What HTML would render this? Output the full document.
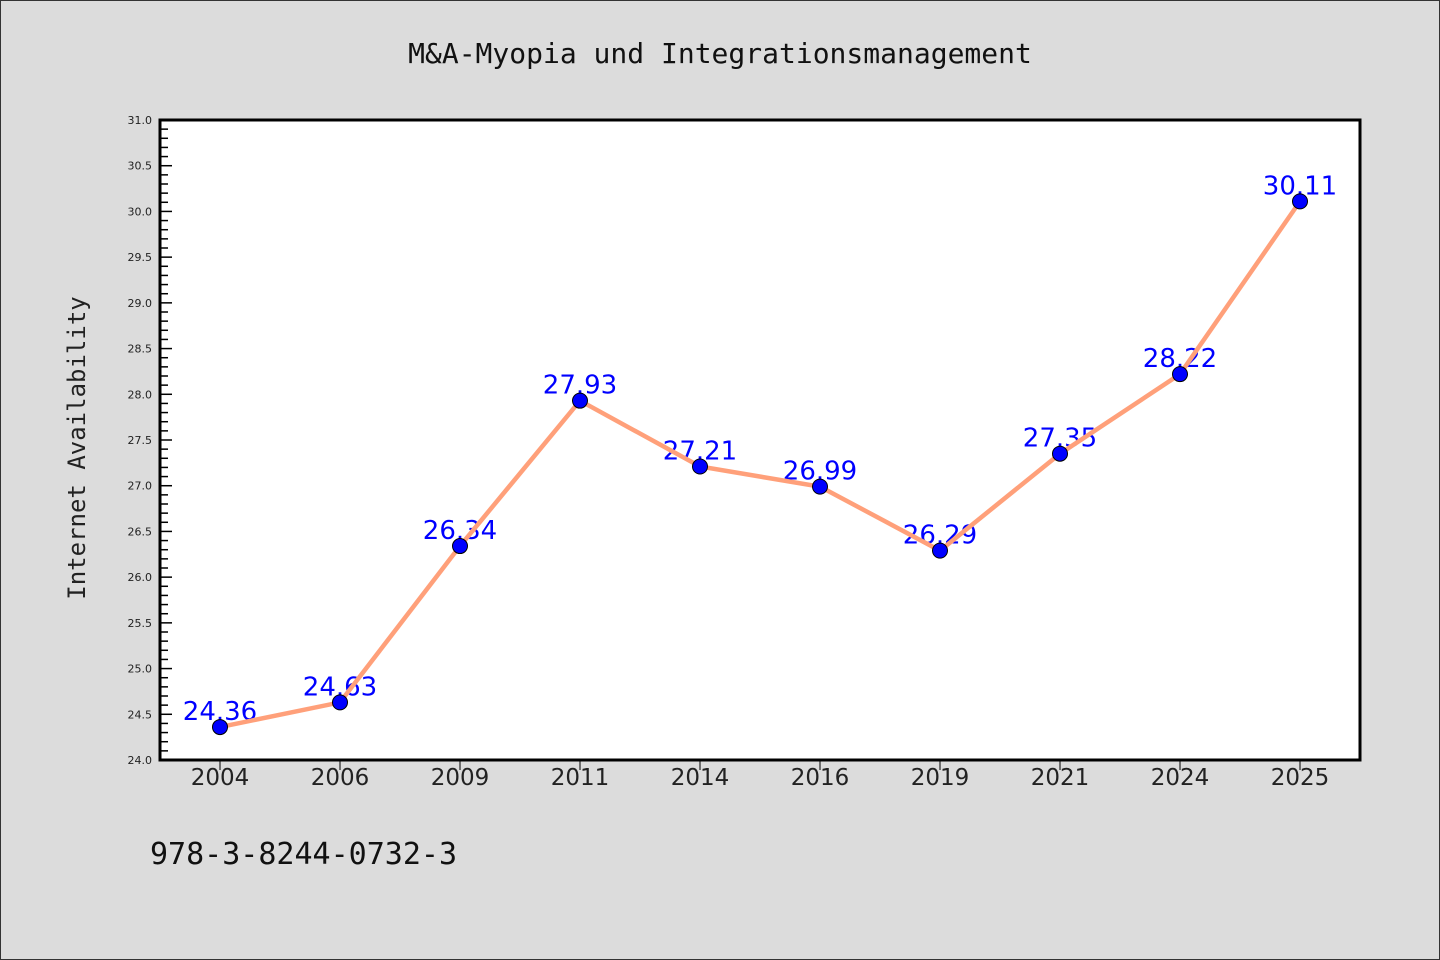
<!DOCTYPE html>
<html><head><meta charset="utf-8"><style>
body{margin:0;background:#dcdcdc;}
svg{display:block}
</style></head><body>
<svg width="1440" height="960" xmlns="http://www.w3.org/2000/svg">
<rect x="0.5" y="0.5" width="1439" height="959" fill="#dcdcdc" stroke="#333"/>
<text x="720" y="63" text-anchor="middle" font-family="DejaVu Sans Mono, monospace" font-size="28" fill="#111">M&amp;A-Myopia und Integrationsmanagement</text>
<rect x="160" y="120" width="1200" height="640" fill="#fff"/>
<g id="yaxis"></g><g id="xaxis"></g><g id="series"></g>
<rect x="160" y="120" width="1200" height="640" fill="none" stroke="#000" stroke-width="3"/>
<text transform="translate(85,448) rotate(-90)" text-anchor="middle" font-family="DejaVu Sans Mono, monospace" font-size="24" fill="#222">Internet Availability</text>
<text x="150" y="864" font-family="DejaVu Sans Mono, monospace" font-size="30" fill="#111">978-3-8244-0732-3</text>
</svg>
<script>
const categories=["2004","2006","2009","2011","2014","2016","2019","2021","2024","2025"];
const values=[24.36,24.63,26.34,27.93,27.21,26.99,26.29,27.35,28.22,30.11];
const valueLabels=["24.36","24.63","26.34","27.93","27.21","26.99","26.29","27.35","28.22","30.11"];
const yTicks=["24.0","24.5","25.0","25.5","26.0","26.5","27.0","27.5","28.0","28.5","29.0","29.5","30.0","30.5","31.0"];
const yMin=24,yMax=31;
const L=160,R=1360,T=120,B=760;
const NS="http://www.w3.org/2000/svg";
function y(v){return B-(v-yMin)/(yMax-yMin)*(B-T);}
function x(i){return L+(i+0.5)*(R-L)/categories.length;}
function mk(tag,attrs,parent){const e=document.createElementNS(NS,tag);for(const k in attrs)e.setAttribute(k,attrs[k]);parent.appendChild(e);return e;}
const ya=document.getElementById('yaxis'),xa=document.getElementById('xaxis'),sg=document.getElementById('series');
for(let v=yMin;v<=yMax+1e-9;v+=0.1){
  const r=Math.round(v*10);const major=r%5===0;const yy=y(r/10);
  const t=mk('line',{x1:L,x2:L+(major?12:8),y1:yy,y2:yy,stroke:'#000','stroke-width':1.5},ya);
  
  
}
yTicks.forEach(s=>{
  const t=mk('text',{x:L-8,y:y(parseFloat(s))+4,'text-anchor':'end','font-family':'DejaVu Sans, sans-serif','font-size':11,fill:'#222'},ya);
  t.textContent=s;
  
  
});
categories.forEach((c,i)=>{
  const tk=mk('line',{x1:x(i),x2:x(i),y1:B,y2:B+10,stroke:'#000','stroke-width':1},xa);
  
  
  const t=mk('text',{x:x(i),y:B+25,'text-anchor':'middle','font-family':'DejaVu Sans, sans-serif','font-size':23,fill:'#222'},xa);
  t.textContent=c;
  
  
});
values.forEach((v,i)=>{
  const t=mk('text',{x:x(i),y:y(v)-7,'text-anchor':'middle','font-family':'DejaVu Sans, sans-serif','font-size':26,fill:'#0000ff'},sg);
  t.textContent=valueLabels[i];
  
  
});
const pl=mk('polyline',{points:values.map((v,i)=>x(i)+','+y(v)).join(' '),fill:'none',stroke:'#ffa07a','stroke-width':4.5},sg);


values.forEach((v,i)=>{
  const c=mk('circle',{cx:x(i),cy:y(v),r:7.5,fill:'#0000ff',stroke:'#000','stroke-width':1},sg);
  
  
});
</script>
</body></html>
